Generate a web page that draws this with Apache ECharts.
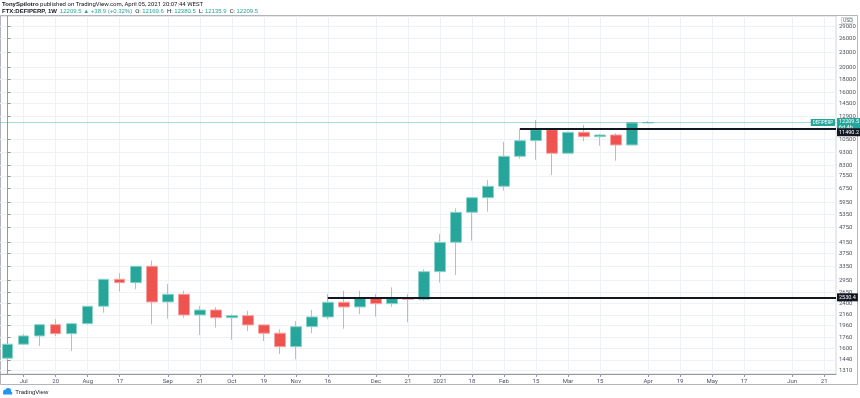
<!DOCTYPE html>
<html>
<head>
<meta charset="utf-8">
<title>FTX:DEFIPERP 1W</title>
<script src="https://cdn.jsdelivr.net/npm/echarts@6/dist/echarts.min.js"></script>
<style>
html, body { margin: 0; padding: 0; background: #fff; }
#chart { width: 860px; height: 398px; }
</style>
</head>
<body>
<div id="chart"></div>
<script>
// weekly candles (one per monday), last weeks are empty future space
var weeks = ['2020-06-29', '2020-07-06', '2020-07-13', '2020-07-20', '2020-07-27', '2020-08-03', '2020-08-10',
    '2020-08-17', '2020-08-24', '2020-08-31', '2020-09-07', '2020-09-14', '2020-09-21', '2020-09-28',
    '2020-10-05', '2020-10-12', '2020-10-19', '2020-10-26', '2020-11-02', '2020-11-09', '2020-11-16',
    '2020-11-23', '2020-11-30', '2020-12-07', '2020-12-14', '2020-12-21', '2020-12-28', '2021-01-04',
    '2021-01-11', '2021-01-18', '2021-01-25', '2021-02-01', '2021-02-08', '2021-02-15', '2021-02-22',
    '2021-03-01', '2021-03-08', '2021-03-15', '2021-03-22', '2021-03-29', '2021-04-05', '2021-04-12',
    '2021-04-19', '2021-04-26', '2021-05-03', '2021-05-10', '2021-05-17', '2021-05-24', '2021-05-31',
    '2021-06-07', '2021-06-14', '2021-06-21'];
var weekLabels = ['', 'Jul', '', '20', '', 'Aug', '', '17', '', '', 'Sep', '', '21', '', 'Oct', '', '19', '',
    'Nov', '', '16', '', '', 'Dec', '', '21', '', '2021', '', '18', '', 'Feb', '', '15', '', 'Mar', '', '15',
    '', '', 'Apr', '', '19', '', 'May', '', '17', '', '', 'Jun', '', '21'];

var open = [1463, 1659, 1788, 1979, 1824, 1997, 2335, 2977, 2887, 3347, 2428, 2601, 2159, 2258, 2107, 2146,
    1974, 1832, 1623, 1943, 2121, 2420, 2321, 2523, 2390, 2523, 2487, 3188, 4154, 5441, 6206, 6876, 9008,
    10367, 11445, 9254, 11180, 10746, 10911, 9973, 12169.6];
var close = [1659, 1788, 1979, 1824, 1997, 2335, 2977, 2887, 3347, 2428, 2601, 2159, 2258, 2107, 2146, 1974,
    1832, 1623, 1943, 2121, 2420, 2321, 2523, 2390, 2523, 2487, 3188, 4154, 5441, 6206, 6876, 9008, 10367,
    11445, 9254, 11180, 10746, 10911, 9973, 12170.6, 12209.5];
var low = [1440, 1650, 1633, 1785, 1561, 1985, 2204, 2662, 2720, 1985, 2088, 2107, 1804, 1926, 1724, 1869,
    1708, 1520, 1449, 1832, 2077, 1908, 2173, 2126, 2327, 2021, 2455, 2887, 3095, 4214, 5471, 6609, 8816,
    8737, 7613, 9200, 10311, 9910, 8658, 9950, 12135.9];
var high = [1665, 1820, 1990, 2077, 2014, 2340, 2990, 3142, 3355, 3520, 2853, 2684, 2342, 2314, 2173, 2244,
    1985, 1898, 2046, 2258, 2608, 2687, 2684, 2608, 2770, 2608, 3257, 4476, 5641, 6230, 7278, 10273, 11548,
    12489, 11500, 11250, 11939, 11005, 11080, 12300, 12380.5];

var priceTicks = [1310, 1440, 1600, 1760, 1960, 2160, 2400, 2650, 2950, 3350, 3750, 4150, 4750, 5350, 5950,
    6750, 7550, 8300, 9300, 10500, 12900, 14500, 16000, 18000, 20000, 23000, 26000, 29000];

var lastPrice = 12209.5;
var levelStart = ['2020-11-16', '2021-02-08'];
var levelValue = [2530.4, 11490.2];

var xMin = -0.48, xMax = 51.74;

var candles = [];
for (var i = 0; i < open.length; i++)
{
    candles.push([i, open[i], close[i], low[i], high[i]]);
}
var labelIdx = [];
for (var j = 0; j < weekLabels.length; j++)
{
    if (weekLabels[j] !== '') labelIdx.push(j);
}

var lines = [];
// last price line + its tags
lines.push([
    {coord: [xMin, lastPrice], lineStyle: {color: 'rgba(38,166,154,0.4)', width: 1, type: 'solid'}},
    {
        coord: [xMax, lastPrice],
        label: {
            show: true, position: 'end', distance: 1, formatter: lastPrice + '\n6d 4h',
            color: '#ffffff', backgroundColor: '#26a69a', padding: [1, 2, 0, 2],
            fontSize: 5.5, lineHeight: 6, offset: [0, 2]
        }
    }
]);
lines.push([
    {coord: [xMin, lastPrice], lineStyle: {color: 'rgba(0,0,0,0)', width: 1}},
    {
        coord: [xMax, lastPrice],
        label: {
            show: true, position: 'insideEndTop', distance: [1, 0], verticalAlign: 'middle',
            formatter: 'DEFIPERP', color: '#ffffff', backgroundColor: '#26a69a', padding: [1, 2],
            fontSize: 4.5
        }
    }
]);
for (var k = 0; k < levelValue.length; k++)
{
    lines.push([
        {coord: [weeks.indexOf(levelStart[k]), levelValue[k]]},
        {
            coord: [xMax, levelValue[k]],
            label: {
                show: true, position: 'end', distance: 1, formatter: String(levelValue[k]),
                color: '#ffffff', backgroundColor: '#131722', padding: [1, 2], fontSize: 5.5,
                offset: k === 1 ? [0, 3] : [0, 0]
            }
        }
    ]);
}

var myChart = echarts.init(document.getElementById('chart'));
option = {
    animation: false,
    backgroundColor: '#ffffff',
    textStyle: {fontFamily: 'Roboto'},
    grid: {left: 0, right: 24, top: 16, bottom: 24, show: true, borderColor: '#d1d4dc', borderWidth: 1},
    graphic: [
        {
            type: 'text', left: 2, top: 1,
            style: {
                text: '{b|TonySpilotro} published on TradingView.com, April 05, 2021 20:07:44 WEST',
                fontSize: 6, fontFamily: 'Roboto', fill: '#131722',
                rich: {b: {fontWeight: 'bold', fontSize: 6}}
            }
        },
        {
            type: 'text', left: 2, top: 8,
            style: {
                text: '{b|FTX:DEFIPERP, 1W}  {g|12209.5 ▲ +38.9 (+0.32%)}  O: {g|12169.6}  H: {g|12380.5}  L: {g|12135.9}  C: {g|12209.5}',
                fontSize: 6, fontFamily: 'Roboto', fill: '#131722',
                rich: {b: {fontWeight: 'bold', fontSize: 6}, g: {fill: '#26a69a', fontSize: 6}}
            }
        },
        {
            type: 'rect', shape: {x: 0.5, y: 15.5, width: 857, height: 369},
            style: {fill: 'none', stroke: '#b2b5be', lineWidth: 1}, silent: true
        },
        {
            type: 'rect', shape: {x: 841.5, y: 17.5, width: 11, height: 6},
            style: {fill: '#fff', stroke: '#d1d4dc', lineWidth: 1}
        },
        {
            type: 'text', left: 843, top: 18.5,
            style: {text: 'USD', fontSize: 4.5, fill: '#4c525e'}
        },
        {
            type: 'group', left: 3, top: 388,
            children: [
                {type: 'circle', shape: {cx: 3, cy: 4, r: 2.2}, style: {fill: '#2196f3'}},
                {type: 'circle', shape: {cx: 6, cy: 3, r: 3}, style: {fill: '#2196f3'}},
                {type: 'rect', shape: {x: 1, y: 4, width: 9, height: 2.5}, style: {fill: '#2196f3'}},
                {type: 'text', style: {x: 13, y: 1, text: 'TradingView', fontSize: 6, fill: '#131722'}}
            ]
        }
    ],
    xAxis: {
        type: 'value',
        min: xMin,
        max: xMax,
        axisLine: {show: true, onZero: false, lineStyle: {color: '#9598a1'}},
        axisTick: {show: true, customValues: labelIdx, length: 3, lineStyle: {color: '#9598a1'}},
        axisLabel: {
            customValues: labelIdx, fontSize: 6, color: '#4c525e', margin: 4,
            formatter: function (v) { return weekLabels[Math.round(v)]; }
        },
        splitLine: {show: true, lineStyle: {color: '#eef1f6'}}
    },
    yAxis: {
        type: 'log',
        logBase: 10,
        position: 'right',
        min: 1269,
        max: 31846,
        axisLine: {show: true, lineStyle: {color: '#9598a1'}},
        axisTick: {show: true, customValues: priceTicks, length: 3, lineStyle: {color: '#9598a1'}},
        axisLabel: {
            customValues: priceTicks, fontSize: 6, color: '#4c525e', margin: 3,
            formatter: function (v) { return String(Math.round(v)); }
        },
        splitLine: {show: true, lineStyle: {color: '#eef1f6'}}
    },
    series: [
        {
            type: 'candlestick',
            data: candles,
            encode: {x: 0, y: [1, 2, 3, 4]},
            barWidth: 11,
            itemStyle: {
                color: '#26a69a', color0: '#ef5350',
                borderColor: '#8fd3cb', borderColor0: '#f6a3a1', borderWidth: 1
            },
            markLine: {
                silent: true,
                symbol: ['none', 'none'],
                label: {show: false},
                lineStyle: {color: '#131722', width: 2, type: 'solid'},
                data: lines
            }
        }
    ]
};
myChart.setOption(option);
</script>
</body>
</html>
